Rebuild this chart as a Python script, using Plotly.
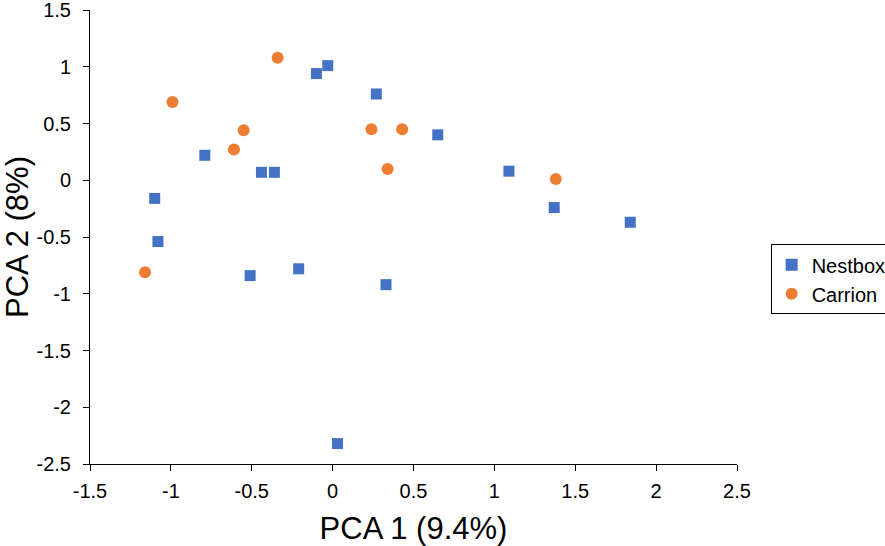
import plotly.graph_objects as go

nestbox_x = [-0.03, -0.10, 0.27, 0.65, 1.09, 1.37, 1.84, -0.79, -0.44, -0.36, -1.10, -1.08, -0.51, -0.21, 0.33, 0.03]
nestbox_y = [1.01, 0.94, 0.76, 0.40, 0.08, -0.24, -0.37, 0.22, 0.07, 0.07, -0.16, -0.54, -0.84, -0.78, -0.92, -2.32]

carrion_x = [-0.34, -0.99, -0.55, -0.61, 0.24, 0.43, 0.34, 1.38, -1.16]
carrion_y = [1.08, 0.69, 0.44, 0.27, 0.45, 0.45, 0.10, 0.01, -0.81]

x_ticks = [-1.5, -1, -0.5, 0, 0.5, 1, 1.5, 2, 2.5]
x_labels = ["-1.5", "-1", "-0.5", "0", "0.5", "1", "1.5", "2", "2.5"]
y_ticks = [1.5, 1, 0.5, 0, -0.5, -1, -1.5, -2, -2.5]
y_labels = ["1.5", "1", "0.5", "0", "-0.5", "-1", "-1.5", "-2", "-2.5"]

FONT = "Liberation Sans, Arial, Helvetica, sans-serif"

fig = go.Figure()
fig.add_trace(go.Scatter(x=nestbox_x, y=nestbox_y, mode="markers", name="Nestbox",
                         marker=dict(symbol="square", size=11, color="#4472C4")))
fig.add_trace(go.Scatter(x=carrion_x, y=carrion_y, mode="markers", name="Carrion",
                         marker=dict(symbol="circle", size=12, color="#ED7D31")))

fig.update_layout(
    width=885, height=546,
    margin=dict(l=90, r=148, t=10, b=82, autoexpand=False),
    paper_bgcolor="white", plot_bgcolor="white",
    font=dict(family=FONT, color="black"),
    showlegend=True,
    legend=dict(x=1.052, y=0.407, xanchor="left", yanchor="middle",
                bordercolor="black", borderwidth=1, bgcolor="white",
                font=dict(size=20, family=FONT, color="black"),
                itemsizing="constant", itemwidth=30, tracegroupgap=4),
)
fig.update_xaxes(range=[-1.5, 2.5], tickvals=x_ticks, ticktext=x_labels,
                 showgrid=False, zeroline=False, showline=True, linecolor="black", linewidth=1,
                 ticks="outside", ticklen=6, tickcolor="black", ticklabelstandoff=3,
                 ticklabeloverflow="allow",
                 tickfont=dict(size=20, family=FONT, color="black"),
                 title=dict(text="PCA 1 (9.4%)", font=dict(size=31, family=FONT, color="black"), standoff=18))
fig.update_yaxes(range=[-2.5, 1.5], tickvals=y_ticks, ticktext=y_labels,
                 showgrid=False, zeroline=False, showline=True, linecolor="black", linewidth=1,
                 ticks="outside", ticklen=6, tickcolor="black", ticklabelstandoff=8,
                 ticklabeloverflow="allow",
                 tickfont=dict(size=20, family=FONT, color="black"),
                 title=dict(text="PCA 2 (8%)", font=dict(size=31, family=FONT, color="black"), standoff=10))

fig.write_html("out.html", config={"displayModeBar": False},
               post_script="document.body.style.margin='0';document.body.style.overflow='hidden';")
